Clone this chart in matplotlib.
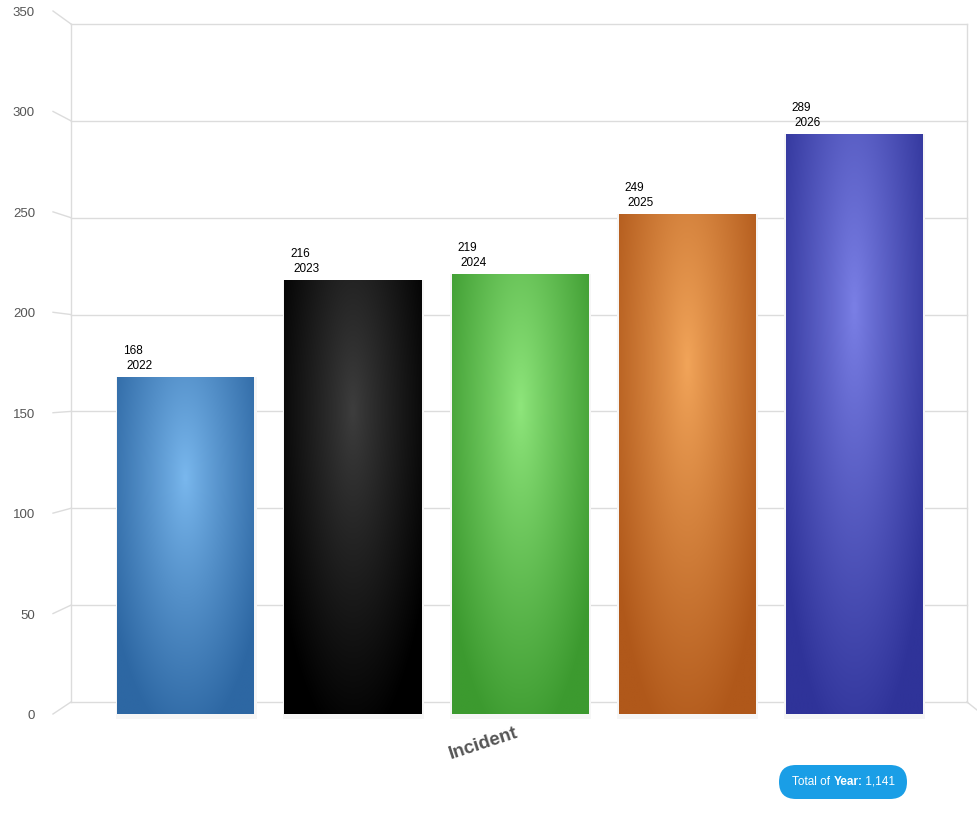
import numpy as np
import matplotlib
matplotlib.use("Agg")
import matplotlib.pyplot as plt
from matplotlib.patches import FancyBboxPatch, Rectangle
from matplotlib.colors import to_rgb

plt.rcParams['font.family'] = ['Liberation Sans', 'DejaVu Sans']

# ---- data ----
years = ["2022", "2023", "2024", "2025", "2026"]
values = [168, 216, 219, 249, 289]
edge_colors = ["#2d67a3", "#000000", "#3c9a2f", "#b0581a", "#2f3399"]
center_colors = ["#7ab8ee", "#3e3e3e", "#8fe67c", "#f2a55a", "#7b80e6"]
yticks = [0, 50, 100, 150, 200, 250, 300, 350]
axis_title = "Incident"
badge_label = "Year:"

# ---- layout ----
W, H = 977, 827
fig = plt.figure(figsize=(W / 100, H / 100), dpi=100)
ax = fig.add_axes([0, 0, 1, 1])
ax.axis("off")

px0, pstep = 186.0, 167.0          # pixel x of first category and spacing
y0_px, ppu = 714.0, 703.0 / 350.0  # pixel y (from top) of value 0 and pixels per unit
xlim = ((0 - px0) / pstep, (W - px0) / pstep)
ylim = (-(H - y0_px) / ppu, y0_px / ppu)

def xd(px):
    return (px - px0) / pstep

# perspective (back plane) parameters
k = 678.0 / 703.0
cx = xd(559)
cy = (y0_px - 376) / ppu
front_left, front_right = xd(53), xd(982)
back_left = cx + k * (front_left - cx)
back_right = cx + k * (front_right - cx)

def yb(v):
    return cy + k * (v - cy)

gc = "#dcdcdc"
for v in yticks:
    ax.plot([front_left, back_left], [v, yb(v)], color=gc, lw=1.0, zorder=1)
    ax.plot([back_left, back_right], [yb(v), yb(v)], color=gc, lw=1.0, zorder=1)
    ax.annotate(str(v), xy=(front_left, v), xytext=(-18, -2), textcoords="offset pixels",
                ha="right", va="center", fontsize=9.5, color="#555555")
ax.plot([front_right, back_right], [0, yb(0)], color=gc, lw=1.0, zorder=1)
for bx in (back_left, back_right):
    ax.plot([bx, bx], [yb(0), yb(max(yticks))], color=gc, lw=1.0, zorder=1)

# ---- bars ----
width = 137.0 / pstep
x = np.arange(len(values))
# very faint soft shadow
for xi, v in zip(x, values):
    ax.add_patch(Rectangle((xi - width / 2 - 0.008, -2.5), width + 0.02, v + 2.5,
                           facecolor="#f6f6f6", edgecolor="none", zorder=2))
bars = ax.bar(x, values, width=width, color=edge_colors, zorder=3, linewidth=0)

ny, nx = 200, 80
for i, (xi, v, bar, ec, cc) in enumerate(zip(x, values, bars, edge_colors, center_colors)):
    gx = np.linspace(-0.5, 0.5, nx)
    gy = np.linspace(0, 1, ny)
    X, Y = np.meshgrid(gx, gy)
    t = np.sqrt((X / 0.62) ** 2 + ((Y - 0.70) / 0.78) ** 2)
    t = np.clip(t, 0, 1) ** 0.9
    e, c = np.array(to_rgb(ec)), np.array(to_rgb(cc))
    img = c[None, None, :] * (1 - t[..., None]) + e[None, None, :] * t[..., None]
    im = ax.imshow(img, extent=(xi - width / 2, xi + width / 2, 0, v), origin="lower",
                   aspect="auto", zorder=4, interpolation="bilinear")
    im.set_clip_path(bar)
    ax.annotate(str(v), xy=(xi - width / 2, v), xytext=(6, 26), textcoords="offset pixels",
                ha="left", va="center", fontsize=8.5, color="#000000", zorder=5)
    ax.annotate(years[i], xy=(xi - width / 2, v), xytext=(9, 11),
                textcoords="offset pixels", ha="left", va="center", fontsize=8.5,
                color="#000000", zorder=5)

ax.set_xlim(*xlim)
ax.set_ylim(*ylim)

# axis title
fig.text(483 / W, 1 - 744 / H, axis_title, rotation=18, ha="center", va="center",
         fontsize=13.5, fontweight="bold", color="#555555")

# total badge
total = sum(values)
pill = FancyBboxPatch((779, H - 799), 128, 34, boxstyle="round,pad=0,rounding_size=17",
                      transform=None, facecolor="#1a9ee6", edgecolor="none")
fig.add_artist(pill)
t1 = fig.text(792 / W, 1 - 782 / H, "Total of ", ha="left", va="center",
              fontsize=8.5, color="white")
t2 = fig.add_artist(matplotlib.text.Annotation(
    badge_label, xy=(1, 0), xycoords=t1, ha="left", va="bottom",
    fontsize=8.5, fontweight="bold", color="white"))
t3 = fig.add_artist(matplotlib.text.Annotation(
    f" {total:,}", xy=(1, 0), xycoords=t2, ha="left", va="bottom",
    fontsize=8.5, color="white"))

fig.savefig("out.png", dpi=100)
